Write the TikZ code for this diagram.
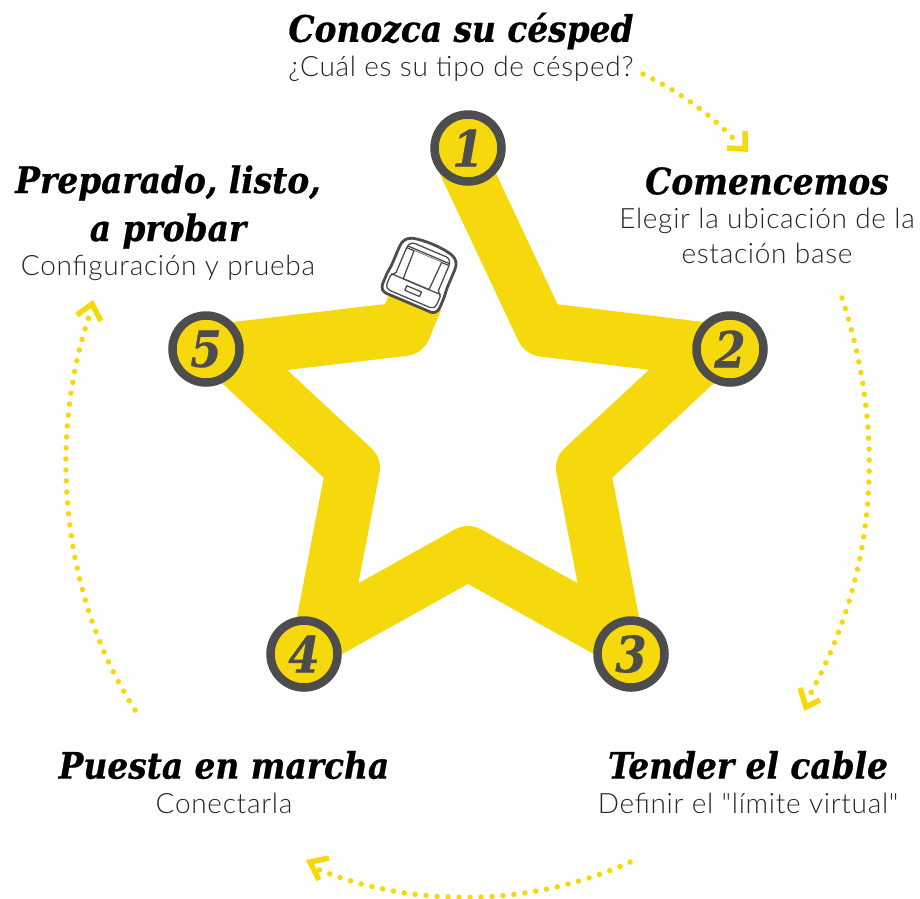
\documentclass[tikz,border=0pt]{standalone}
\usepackage{fontspec}
\setmainfont{Lato}
\newfontfamily\headf{DejaVu Serif Condensed}[BoldItalicFont={DejaVu Serif Condensed Bold Italic},BoldItalicFeatures={FakeBold=0.6}]
\newfontfamily\bodyf{Lato Light}[LetterSpace=2.5]
\definecolor{sy}{HTML}{F6D90C}
\definecolor{dk}{HTML}{4D4D4D}
\tikzset{
  x=1pt,y=-1pt,
  ribbon/.style={draw=sy,line width=54pt,line join=round,line cap=round},
  ribbonarm/.style={draw=sy,line width=51pt,line cap=round},
  ribbonend/.style={draw=sy,line width=54pt},
  badge/.style={circle,draw=dk,fill=sy,line width=8.5pt,minimum size=67pt,inner sep=0pt,text=dk,font=\headf\bfseries\itshape\fontsize{50}{50}\selectfont},
  dots/.style={draw=sy,line width=5.5pt,line cap=round,dash pattern=on 0pt off 11pt},
  tipbar/.style={draw=sy,line width=5.5pt,line join=miter},
  head/.style={font=\headf\bfseries\itshape\fontsize{36.5}{48}\selectfont,text=black,align=center,inner sep=0pt},
  body/.style={font=\bodyf\fontsize{28}{35}\selectfont,text=black!85,align=center,inner sep=0pt},
  robot/.style={draw=dk,fill=white,line width=1.3pt,line join=round},
  robotout/.style={draw=dk,fill=white,line width=2.8pt,line join=round}
}
\begin{document}
\begin{tikzpicture}
\useasboundingbox (0,0) rectangle (920,898);
% ribbon vertices
\coordinate (t1) at (462,161);
\coordinate (e12) at (540.5,328);
\coordinate (i12) at (543,329.7);
\coordinate (t2) at (710,350);
\coordinate (i23) at (583,468);
\coordinate (t3) at (615,635);
\coordinate (i34) at (468,553);
\coordinate (t4) at (321,635);
\coordinate (i45) at (353,468);
\coordinate (t5) at (226,350);
\coordinate (i51) at (404,329);
\coordinate (rb) at (416,300);
\draw[ribbonarm] (t1) -- (e12);
\draw[ribbon] (i12) -- (t2) -- (i23) -- (t3) -- (i34) -- (t4) -- (i45) -- (t5) -- (i51);
\draw[ribbonend] (i51) -- (rb);
% badges
\node[badge] (n1) at (468,148) {1};
\node[badge] (n2) at (730,349) {2};
\node[badge] (n3) at (631,654) {3};
\node[badge] (n4) at (304,654) {4};
\node[badge] (n5) at (206,349) {5};
% robot
\begin{scope}[shift={(420,275)},rotate=-23]
\draw[robotout] (-21,-31) .. controls (-10,-34) and (10,-34) .. (21,-31) .. controls (27,-29) and (30,-25) .. (30,-18) -- (30,0) .. controls (30,5) and (31,8) .. (31,12) -- (31,22) .. controls (31,27) and (28,30) .. (24,30) -- (-24,30) .. controls (-28,30) and (-31,27) .. (-31,22) -- (-31,12) .. controls (-31,8) and (-30,5) .. (-30,0) -- (-30,-18) .. controls (-30,-25) and (-27,-29) .. (-21,-31) -- cycle;
\draw[robot] (-17,-27) -- (17,-27) .. controls (20,-27) and (23,-24) .. (23,-20) -- (23,7) -- (27,12) -- (27,20) .. controls (27,24) and (24,26) .. (22,26) -- (-22,26) .. controls (-24,26) and (-27,24) .. (-27,20) -- (-27,12) -- (-23,7) -- (-23,-20) .. controls (-23,-24) and (-20,-27) .. (-17,-27) -- cycle;
\draw[robot] (-23,-22) -- (23,-22);
\draw[robot] (-23,-20) -- (23,-20);
\draw[robot] (-15,-20) -- (-14,10) -- (14,10) -- (15,-20);
\draw[robot] (-27,10) -- (27,10);
\draw[robot] (-8,15) rectangle (8,20);
\end{scope}
% dotted arcs
\coordinate (a1s) at (643,74);
\coordinate (a1e) at (736,141);
\coordinate (a2s) at (842,298);
\coordinate (a2e) at (806,702);
\coordinate (a3s) at (630,862);
\coordinate (a3e) at (315,868);
\coordinate (a4s) at (135,710);
\coordinate (a4e) at (92,308);
\draw[dots] (a1s) .. controls (680,92) and (710,114) .. (a1e);
\draw[dots] (a2s) .. controls (885,430) and (880,570) .. (a2e);
\draw[dots] (a3s) .. controls (530,908) and (410,908) .. (a3e);
\draw[dots] (a4s) .. controls (58,590) and (48,430) .. (a4e);
\draw[tipbar] (745,131) -- (745,149) -- (727,148);
\draw[tipbar] (800,688) -- (806,707) -- (820,700);
\draw[tipbar] (329,858) -- (310,862) -- (319,880);
\draw[tipbar] (77,315) -- (92,304) -- (101,321);
% labels
\node[head] (h1) at (461,31) {Conozca su césped};
\node[body] (b1) at (461,69) {¿Cuál es su tipo de césped?};
\node[head] (h2) at (767,181) {Comencemos};
\node[body] (b2) at (767,236) {Elegir la ubicación de la\\estación base};
\node[head] (h3) at (748,765) {Tender el cable};
\node[body] (b3) at (748,803) {Definir el "límite virtual"};
\node[head] (h4) at (224,765) {Puesta en marcha};
\node[body] (b4) at (224,803) {Conectarla};
\node[head] (h5) at (168,207) {Preparado, listo,\\a probar};
\node[body] (b5) at (168,268) {Configuración y prueba};
\end{tikzpicture}
\end{document}
